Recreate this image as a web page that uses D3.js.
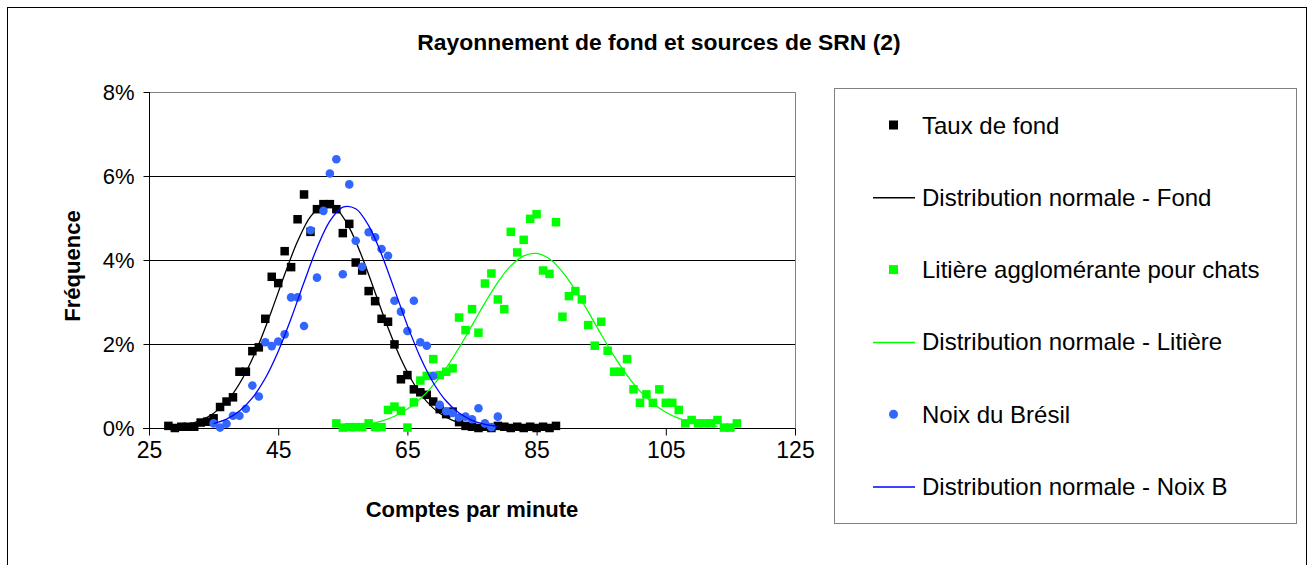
<!DOCTYPE html>
<html>
<head>
<meta charset="utf-8">
<script src="https://cdn.jsdelivr.net/npm/d3@7"></script>
<style>
  body { margin: 0; background: #fff; }
  svg { display: block; font-family: "Liberation Sans", Arial, sans-serif; }
</style>
</head>
<body>
<script>
(function(){

    //chart data (counts per minute, frequency in %)
    var fondCounts = [28,29,30,31,32,33,34,35,36,37,38,39,40,41,42,43,44,45,46,47,48,49,50,51,52,53,54,55,56,57,58,59,60,61,62,63,64,65,66,67,68,69,70,71,72,73,74,75,76,77,78,79,80,81,82,83,84,85,86,87,88];
    var fondFreq = [0.05,0.0,0.03,0.03,0.03,0.13,0.15,0.23,0.5,0.63,0.73,1.34,1.34,1.83,1.92,2.6,3.6,3.45,4.21,3.83,4.97,5.56,4.67,5.21,5.33,5.33,5.21,4.64,4.86,3.94,3.75,3.26,3.02,2.6,2.53,1.99,1.16,1.26,0.92,0.85,0.79,0.63,0.45,0.33,0.39,0.14,0.05,0.03,0.0,0.03,0.0,0.05,0.03,0.0,0.03,0.0,0.03,0.0,0.03,0.0,0.05];

    var fondCurveX = [28,30,32,34,36,38,40,42,44,46,48,50,52,54,56,58,60,62,64,66,68,70,72,74,76];
    var fondCurveY = [0.026,0.059,0.127,0.254,0.473,0.821,1.327,1.997,2.80,3.654,4.444,5.033,5.308,5.215,4.771,4.066,3.227,2.385,1.642,1.053,0.628,0.350,0.181,0.087,0.039];

    var litiereCounts = [54,55,56,57,58,59,60,61,62,63,64,65,66,67,68,69,70,71,72,73,74,75,76,77,78,79,80,81,82,83,84,85,86,87,88,89,90,91,92,93,94,95,96,97,98,99,100,101,102,103,104,105,106,107,108,109,110,111,112,113,114,115,116];
    var litiereFreq = [0.11,0.01,0.02,0.02,0.02,0.11,0.02,0.02,0.43,0.51,0.41,0.01,0.61,1.13,1.24,1.64,1.26,1.34,1.42,2.63,2.33,2.83,2.27,3.44,3.68,3.06,2.83,4.67,4.18,4.48,4.98,5.09,3.75,3.67,4.9,2.65,3.14,3.26,3.06,2.45,1.96,2.53,1.84,1.34,1.34,1.64,0.92,0.6,0.8,0.6,0.92,0.6,0.6,0.43,0.11,0.19,0.11,0.11,0.11,0.19,0.01,0.01,0.11];

    var litiereCurveX = [55,57,59,61,63,65,67,69,71,73,75,77,79,81,83,85,87,89,91,93,95,97,99,101,103,105,107,109,111,113];
    var litiereCurveY = [0.026,0.051,0.094,0.166,0.280,0.451,0.694,1.019,1.428,1.911,2.442,2.979,3.470,3.860,4.099,4.156,4.024,3.719,3.283,2.766,2.226,1.710,1.255,0.879,0.588,0.375,0.229,0.133,0.074,0.039];

    var noixCounts = [35,36,37,38,39,40,41,42,43,44,45,46,47,48,49,50,51,52,53,54,55,56,57,58,59,60,61,62,63,64,65,66,67,68,69,70,71,72,73,74,75,76,77,78,79];
    var noixFreq = [0.11,0.01,0.1,0.29,0.29,0.46,1.01,0.75,2.04,1.95,2.06,2.23,3.11,3.11,2.43,4.71,3.58,5.17,6.06,6.4,3.66,5.8,4.46,3.84,4.66,4.54,4.26,4.1,3.03,2.77,2.31,3.03,2.04,1.96,1.24,0.55,0.4,0.36,0.25,0.27,0.21,0.47,0.11,0.02,0.27];

    var noixCurveX = [35,37,39,41,43,45,47,49,51,53,55,57,59,61,63,65,67,69,71,73,75,77,79];
    var noixCurveY = [0.102,0.210,0.402,0.716,1.185,1.823,2.609,3.469,4.287,4.925,5.259,5.221,4.818,4.133,3.295,2.443,1.683,1.078,0.642,0.355,0.183,0.087,0.039];

    var xTicks = [25,45,65,85,105,125];
    var yTicks = [0,2,4,6,8];

    var legendLabels = ["Taux de fond", "Distribution normale - Fond", "Litière agglomérante pour chats",
        "Distribution normale - Litière", "Noix du Brésil", "Distribution normale - Noix B"];

    //frame dimensions
    var width = 1309,
        height = 565,
        plotLeft = 149,
        plotRight = 795,
        plotTop = 92,
        plotBottom = 428;

    var svg = d3.select("body")
        .append("svg")
        .attr("width", width)
        .attr("height", height);

    //outer chart border
    svg.append("rect")
        .attr("x", 7.5)
        .attr("y", 7.5)
        .attr("width", 1299)
        .attr("height", 600)
        .attr("fill", "#fff")
        .attr("stroke", "#000")
        .attr("stroke-width", 1);

    var x = d3.scaleLinear()
        .domain([25, 125])
        .range([plotLeft, plotRight]);

    var y = d3.scaleLinear()
        .domain([0, 8])
        .range([plotBottom, plotTop]);

    //gridlines
    svg.append("g")
        .selectAll("line")
        .data(yTicks.filter(function(d){ return d > 0; }))
        .enter()
        .append("line")
        .attr("x1", plotLeft)
        .attr("x2", plotRight)
        .attr("y1", function(d){ return Math.round(y(d)) + 0.5; })
        .attr("y2", function(d){ return Math.round(y(d)) + 0.5; })
        .attr("stroke", "#000")
        .attr("stroke-width", 1);

    //plot area frame (top/right grey)
    svg.append("path")
        .attr("d", "M" + plotLeft + "," + (plotTop + 0.5) + "H" + (plotRight + 0.5) + "V" + plotBottom)
        .attr("fill", "none")
        .attr("stroke", "#808080")
        .attr("stroke-width", 1);

    //axes
    var xAxis = d3.axisBottom(x)
        .tickValues(xTicks)
        .tickSize(7)
        .tickPadding(6)
        .tickFormat(d3.format("d"));

    var yAxis = d3.axisLeft(y)
        .tickValues(yTicks)
        .tickSize(6)
        .tickPadding(9)
        .tickFormat(function(d){ return d + "%"; });

    var gx = svg.append("g")
        .attr("transform", "translate(0," + (plotBottom + 0.5) + ")")
        .call(xAxis);
    gx.select(".domain").attr("d", "M" + (plotLeft - 6) + ",0H" + (plotRight + 0.5));

    var gy = svg.append("g")
        .attr("transform", "translate(" + (plotLeft + 0.5) + ",0)")
        .call(yAxis);
    gy.select(".domain").attr("d", "M0," + plotTop + "V" + (plotBottom + 7));

    [gx, gy].forEach(function(g){
        g.selectAll("path, line").attr("stroke", "#000");
        g.selectAll("text")
            .attr("fill", "#000")
            .style("font-size", "23px")
            .style("font-family", "'Liberation Sans', Arial, sans-serif");
    });
    gy.selectAll("text").style("font-size", "22px");

    //series
    var line = d3.line()
        .x(function(d){ return x(d[0]); })
        .y(function(d){ return y(d[1]); })
        .curve(d3.curveCatmullRom);

    function zip(a, b){
        return a.map(function(v, i){ return [v, b[i]]; });
    }

    function drawSquares(counts, freq, color){
        svg.append("g")
            .selectAll("rect")
            .data(zip(counts, freq))
            .enter()
            .append("rect")
            .attr("x", function(d){ return x(d[0]) - 4.25; })
            .attr("y", function(d){ return y(d[1]) - 4.25; })
            .attr("width", 8.5)
            .attr("height", 8.5)
            .attr("fill", color);
    }

    function drawCurve(cx, cy, color){
        svg.append("path")
            .datum(zip(cx, cy))
            .attr("d", line)
            .attr("fill", "none")
            .attr("stroke", color)
            .attr("stroke-width", 1.3);
    }

    drawSquares(fondCounts, fondFreq, "#000000");
    drawCurve(fondCurveX, fondCurveY, "#000000");
    drawSquares(litiereCounts, litiereFreq, "#00ff00");
    drawCurve(litiereCurveX, litiereCurveY, "#00ff00");

    svg.append("g")
        .selectAll("circle")
        .data(zip(noixCounts, noixFreq))
        .enter()
        .append("circle")
        .attr("cx", function(d){ return x(d[0]); })
        .attr("cy", function(d){ return y(d[1]); })
        .attr("r", 4.3)
        .attr("fill", "#3366ff");

    drawCurve(noixCurveX, noixCurveY, "#0000ff");

    //titles
    svg.append("text")
        .attr("x", 659)
        .attr("y", 50)
        .attr("text-anchor", "middle")
        .style("font-size", "22.9px")
        .style("font-weight", "bold")
        .text("Rayonnement de fond et sources de SRN (2)");

    svg.append("text")
        .attr("x", 472)
        .attr("y", 517)
        .attr("text-anchor", "middle")
        .style("font-size", "22px")
        .style("font-weight", "bold")
        .text("Comptes par minute");

    svg.append("text")
        .attr("transform", "translate(80,266) rotate(-90)")
        .attr("text-anchor", "middle")
        .style("font-size", "22px")
        .style("font-weight", "bold")
        .text("Fréquence");

    //legend
    var legend = svg.append("g");
    legend.append("rect")
        .attr("x", 834.5)
        .attr("y", 88.5)
        .attr("width", 462)
        .attr("height", 435)
        .attr("fill", "#fff")
        .attr("stroke", "#808080")
        .attr("stroke-width", 1);

    var legendTypes = ["square", "line", "square", "line", "circle", "line"];
    var legendColors = ["#000000", "#000000", "#00ff00", "#00ff00", "#3366ff", "#0000ff"];

    var items = legend.selectAll(".item")
        .data(legendLabels)
        .enter()
        .append("g")
        .attr("class", "item")
        .attr("transform", function(d, i){ return "translate(0," + (125 + i * 72.3) + ")"; });

    items.each(function(d, i){
        var g = d3.select(this);
        if (legendTypes[i] == "square"){
            g.append("rect").attr("x", 889).attr("y", -4.5).attr("width", 9).attr("height", 9).attr("fill", legendColors[i]);
        } else if (legendTypes[i] == "circle"){
            g.append("circle").attr("cx", 893.5).attr("cy", 0).attr("r", 4.5).attr("fill", legendColors[i]);
        } else {
            g.append("line").attr("x1", 873).attr("x2", 915).attr("y1", 0.5).attr("y2", 0.5)
                .attr("stroke", legendColors[i]).attr("stroke-width", 1.5);
        }
        g.append("text")
            .attr("x", 922)
            .attr("y", 8.5)
            .style("font-size", "24px")
            .text(d);
    });

})();
</script>
</body>
</html>
